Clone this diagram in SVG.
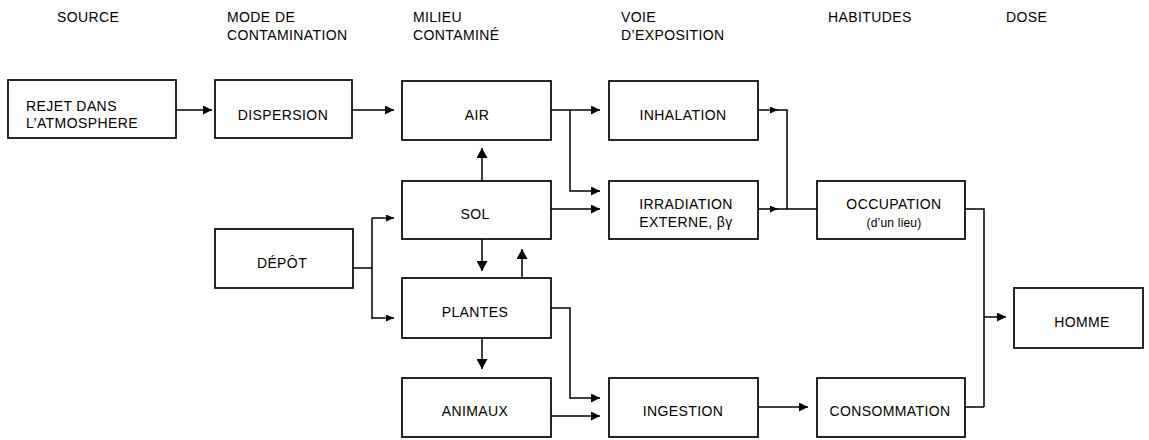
<svg xmlns="http://www.w3.org/2000/svg" width="1149" height="440" viewBox="0 0 1149 440">
<style>
text{font-family:"Liberation Sans",Arial,sans-serif;font-size:14px;letter-spacing:0.4px;fill:#000}
.c{text-anchor:middle}
.sm{font-size:12px;letter-spacing:0.2px}
rect{fill:#fff;stroke:#000;stroke-width:1.7}
#connectors path{fill:none;stroke:#000;stroke-width:1.5}
.a{marker-end:url(#ma)}
.b{marker-end:url(#mb)}
.s{marker-end:url(#ms)}
</style>
<defs>
<marker id="ma" markerUnits="userSpaceOnUse" markerWidth="9" markerHeight="9" refX="9" refY="4.5" orient="auto"><path d="M0,0 L9,4.5 L0,9 z" fill="#000"/></marker>
<marker id="mb" markerUnits="userSpaceOnUse" markerWidth="10" markerHeight="11" refX="10" refY="5.5" orient="auto"><path d="M0,0 L10,5.5 L0,11 z" fill="#000"/></marker>
<marker id="ms" markerUnits="userSpaceOnUse" markerWidth="8" markerHeight="7" refX="8" refY="3.5" orient="auto"><path d="M0,0 L8,3.5 L0,7 z" fill="#000"/></marker>
</defs>
<rect x="0" y="0" width="1149" height="440" style="fill:#fff;stroke:none"/>
<g id="headers">
<text x="57" y="22">SOURCE</text>
<text x="227" y="22">MODE DE</text>
<text x="227" y="40">CONTAMINATION</text>
<text x="413" y="22">MILIEU</text>
<text x="413" y="40">CONTAMINÉ</text>
<text x="621" y="22">VOIE</text>
<text x="621" y="40">D’EXPOSITION</text>
<text x="828" y="22">HABITUDES</text>
<text x="1006" y="22">DOSE</text>
</g>
<g id="connectors">
<path class="a" d="M176,110 H212"/>
<path class="a" d="M352,110 H394"/>
<path class="a" d="M551,110 H600"/>
<path class="a" d="M570,110 V191 H600"/>
<path class="a" d="M551,209 H600"/>
<path class="b" d="M482,181 V148"/>
<path class="b" d="M482,239 V271"/>
<path class="b" d="M522,278 V249"/>
<path d="M353,268 H372 M372,218 V319"/>
<path class="s" d="M372,218 H394"/>
<path class="s" d="M372,318 H394"/>
<path class="b" d="M482,338 V369"/>
<path class="a" d="M551,308 H570 V398 H600"/>
<path class="a" d="M551,416 H600"/>
<path class="a" d="M758,407 H808"/>
<path class="s" d="M758,110 H778"/>
<path d="M777,110 H787 V209"/>
<path class="s" d="M758,209 H778"/>
<path d="M777,209 H817"/>
<path d="M965,209 H984 V407 M965,407 H984"/>
<path class="a" d="M984,317 H1006"/>
</g>
<g id="rejet"><rect x="8" y="80" width="168" height="58"/><text x="26" y="111">REJET DANS</text><text x="26" y="128">L’ATMOSPHERE</text></g>
<g id="dispersion"><rect x="215" y="80" width="137" height="58"/><text class="c" x="283" y="120">DISPERSION</text></g>
<g id="air"><rect x="402" y="81" width="149" height="59"/><text class="c" x="477" y="120">AIR</text></g>
<g id="inhalation"><rect x="609" y="81" width="149" height="59"/><text class="c" x="683" y="120">INHALATION</text></g>
<g id="sol"><rect x="402" y="181" width="149" height="58"/><text class="c" x="475" y="219">SOL</text></g>
<g id="irradiation"><rect x="609" y="181" width="149" height="58"/><text class="c" x="686" y="209">IRRADIATION</text><text class="c" x="686" y="227">EXTERNE, βγ</text></g>
<g id="depot"><rect x="215" y="229" width="138" height="59"/><text class="c" x="282" y="268">DÉPÔT</text></g>
<g id="plantes"><rect x="402" y="278" width="149" height="60"/><text class="c" x="475" y="317">PLANTES</text></g>
<g id="animaux"><rect x="402" y="378" width="149" height="59"/><text class="c" x="475" y="416">ANIMAUX</text></g>
<g id="ingestion"><rect x="609" y="378" width="149" height="59"/><text class="c" x="683" y="416">INGESTION</text></g>
<g id="occupation"><rect x="817" y="181" width="148" height="58"/><text class="c" x="894" y="209">OCCUPATION</text><text class="c sm" x="894" y="227">(d’un lieu)</text></g>
<g id="consommation"><rect x="817" y="378" width="148" height="59"/><text class="c" x="890" y="416">CONSOMMATION</text></g>
<g id="homme"><rect x="1014" y="288" width="129" height="60"/><text class="c" x="1082" y="327">HOMME</text></g>
</svg>
